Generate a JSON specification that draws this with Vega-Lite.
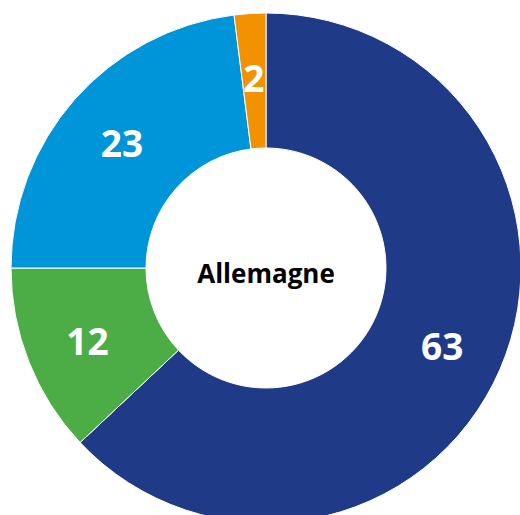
{
  "$schema": "https://vega.github.io/schema/vega-lite/v6.json",
  "width": 532,
  "height": 536,
  "padding": 0,
  "background": "white",
  "data": {
    "values": [
      {"part": "Série 1", "valeur": 63, "ordre": 1},
      {"part": "Série 2", "valeur": 12, "ordre": 2},
      {"part": "Série 3", "valeur": 23, "ordre": 3},
      {"part": "Série 4", "valeur": 2, "ordre": 4}
    ]
  },
  "encoding": {
    "theta": {"field": "valeur", "type": "quantitative", "stack": true},
    "order": {"field": "ordre", "type": "quantitative"}
  },
  "layer": [
    {
      "mark": {"type": "arc", "outerRadius": 255, "innerRadius": 120, "stroke": "white", "strokeWidth": 1},
      "encoding": {
        "color": {
          "field": "part",
          "type": "nominal",
          "scale": {"domain": ["Série 1", "Série 2", "Série 3", "Série 4"], "range": ["#1f3a87", "#4cad47", "#0095d9", "#f39200"]},
          "legend": null
        }
      }
    },
    {
      "mark": {"type": "text", "radius": 192, "dy": 5, "font": "Open Sans", "fontWeight": "bold", "fontSize": 37, "color": "white", "align": "center", "baseline": "middle"},
      "encoding": {"text": {"field": "valeur", "type": "quantitative"}}
    },
    {
      "data": {"values": [{"titre": "Allemagne"}]},
      "mark": {"type": "text", "dy": 7, "font": "Open Sans", "fontWeight": "bold", "fontSize": 26, "color": "black", "align": "center", "baseline": "middle"},
      "encoding": {"text": {"field": "titre", "type": "nominal"}, "theta": null, "order": null}
    }
  ]
}
